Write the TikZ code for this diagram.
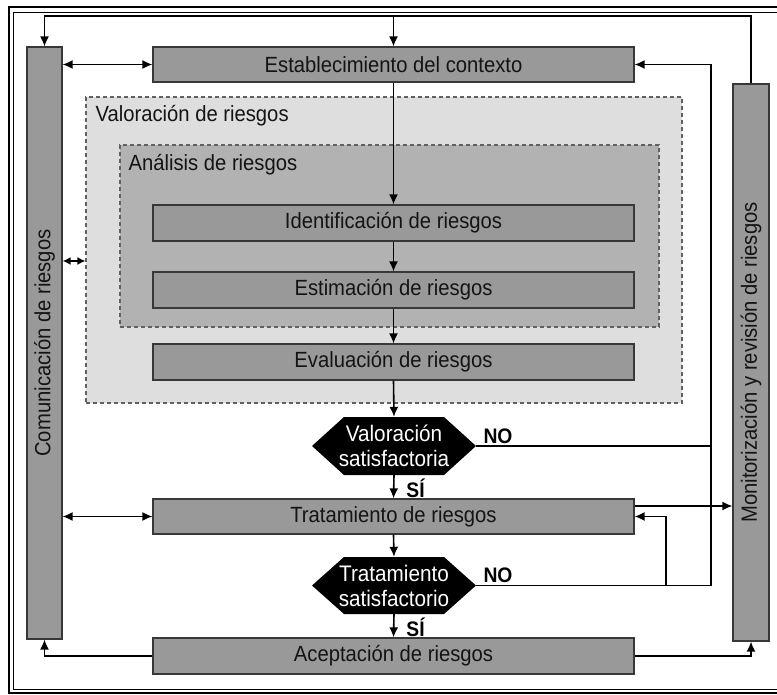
\documentclass[tikz,border=0pt]{standalone}
\usepackage{fontspec}
\setmainfont[FakeStretch=0.92]{Liberation Sans}
\usetikzlibrary{arrows.meta}
\begin{document}
\begin{tikzpicture}[x=1pt,y=-1pt,
  txt/.style={font=\fontsize{22}{26}\selectfont, text=black!92},
  box/.style={draw=black!78, fill=black!40, line width=1.2pt, inner sep=0pt,
    minimum width=481pt, minimum height=36pt, txt},
  colbox/.style={draw=black!78, fill=black!40, line width=1.2pt, inner sep=0pt},
  region/.style={draw=black!62, line width=1.1pt, dash pattern=on 4pt off 3pt, inner sep=0pt},
  hexnode/.style={minimum width=164pt, minimum height=58pt, inner sep=0pt,
    align=center, font=\fontsize{22.5}{25}\selectfont, text=white,
    path picture={\fill[black]
      (path picture bounding box.west)
      -- ([xshift=32pt]path picture bounding box.north west)
      -- ([xshift=-32pt]path picture bounding box.north east)
      -- (path picture bounding box.east)
      -- ([xshift=-32pt]path picture bounding box.south east)
      -- ([xshift=32pt]path picture bounding box.south west) -- cycle;}},
  lbl/.style={font=\bfseries\fontsize{21}{24}\selectfont, inner sep=0pt},
  arr/.style={line width=1.6pt, -{Latex[length=10pt,width=9pt]}},
  darr/.style={line width=1.6pt, {Latex[length=10pt,width=9pt]}-{Latex[length=10pt,width=9pt]}},
  plain/.style={line width=1.6pt}
]
\useasboundingbox (0,0) rectangle (777,695);
\clip (0,0) rectangle (777,695);

% double outer frame
\draw[line width=2.2pt] (9,7) rectangle (800,693);
\draw[line width=1.3pt] (13.5,12.5) rectangle (795,689.5);

% nested assessment regions
\node[region, fill=black!13, minimum width=596pt, minimum height=306pt] (valreg) at (384,250) {};
\node[txt, anchor=west] (valtxt) at (92,116) {Valoración de riesgos};
\node[region, fill=black!30, minimum width=539pt, minimum height=182pt] (anareg) at (389.5,236) {};
\node[txt, anchor=west] (anatxt) at (125,165) {Análisis de riesgos};

% side columns
\node[colbox, minimum width=35pt, minimum height=592pt] (com) at (44.5,343) {};
\node[txt, rotate=90] (comtxt) at (com) {Comunicación de riesgos};
\node[colbox, minimum width=36pt, minimum height=557pt] (mon) at (751,362.5) {};
\node[txt, rotate=90] (montxt) at (mon) {Monitorización y revisión de riesgos};

% main process steps
\node[box, minimum height=35pt] (ctx) at (393.5,64.5) {Establecimiento del contexto};
\node[box] (ident) at (393.5,223) {Identificación de riesgos};
\node[box] (estim) at (393.5,290) {Estimación de riesgos};
\node[box] (eval) at (393.5,362) {Evaluación de riesgos};
\node[hexnode] (dec1) at (394,446) {Valoración\\satisfactoria};
\node[box, minimum height=35pt] (trat) at (393.5,516.5) {Tratamiento de riesgos};
\node[hexnode, minimum height=57pt] (dec2) at (394,585.5) {Tratamiento\\satisfactorio};
\node[box] (acep) at (393.5,656) {Aceptación de riesgos};

% branch labels
\node[lbl] (no1) at (498,436) {NO};
\node[lbl] (si1) at (415.5,488) {SÍ};
\node[lbl] (no2) at (498,575) {NO};
\node[lbl] (si2) at (415.5,627) {SÍ};

% rails
\coordinate (topr) at (0,16);
\coordinate (rail) at (711,0);
\coordinate (loop) at (666,0);

% main flow
\draw[arr] (ctx.south) -- (ident.north);
\draw[arr] (ident.south) -- (estim.north);
\draw[arr] (estim.south) -- (eval.north);
\draw[arr] (eval.south) -- (dec1.north);
\draw[arr] (dec1.south) -- (trat.north);
\draw[arr] (trat.south) -- (dec2.north);
\draw[arr] (dec2.south) -- (acep.north);

% NO branches back to context and treatment
\draw[plain] (dec1.east) -- (dec1.east -| rail);
\draw[arr] (dec2.east) -- (dec2.east -| rail) |- (ctx.east);
\draw[arr] (dec2.east -| loop) |- (trat.east);

% treatment to monitoring
\draw[arr] ([yshift=10.5pt]trat.east) -- ([yshift=10.5pt]trat.east -| mon.west);

% communication links
\draw[darr] (com.east |- ctx.west) -- (ctx.west);
\draw[darr] (com.east |- trat.west) -- (trat.west);
\draw[line width=1.6pt, {Latex[length=8pt,width=8pt]}-{Latex[length=8pt,width=8pt]}]
  (com.east |- 0,261) -- (valreg.west |- 0,261);

% acceptance to both columns
\draw[arr] (acep.west) -| (com.south);
\draw[arr] (acep.east) -| (mon.south);

% monitoring feedback along the top
\draw[arr] (mon.north) -- (mon.north |- topr) -- (com.north |- topr) -- (com.north);
\draw[arr] (ctx.north |- topr) -- (ctx.north);
\end{tikzpicture}
\end{document}
